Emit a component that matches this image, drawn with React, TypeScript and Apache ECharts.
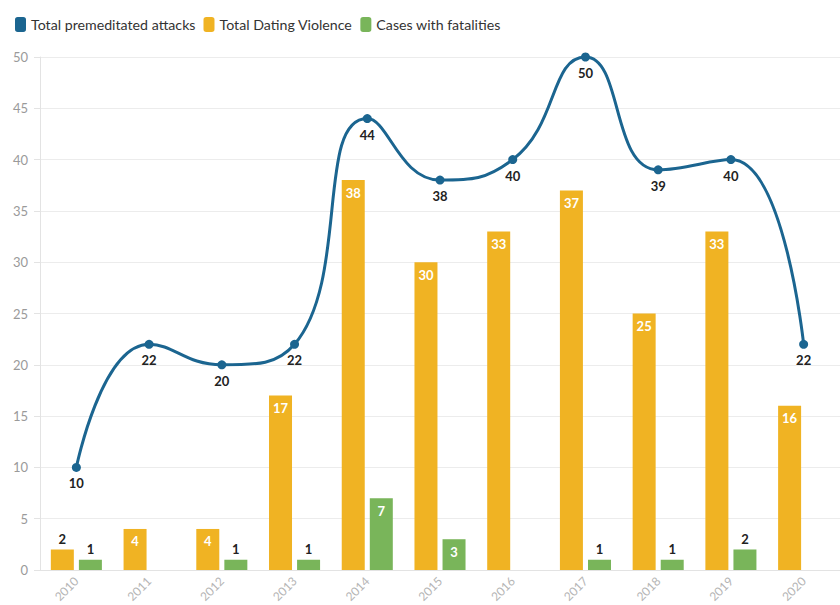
import React, { useEffect, useRef } from "react";
import * as echarts from "echarts";

const years = ["2010", "2011", "2012", "2013", "2014", "2015", "2016", "2017", "2018", "2019", "2020"];
const premeditated = [10, 22, 20, 22, 44, 38, 40, 50, 39, 40, 22];
const datingViolence = [2, 4, 4, 17, 38, 30, 33, 37, 25, 33, 16];
const fatalities: (number | null)[] = [1, null, 1, 1, 7, 3, null, 1, 1, 2, null];
const yTicks = { min: 0, max: 50, interval: 5 };

const BLUE = "#1b6590";
const YELLOW = "#f0b323";
const GREEN = "#79b55a";
const FONT = "Lato, 'Noto Sans', sans-serif";

// Value labels sit inside tall bars (white) and above short ones (dark)
function barItems(values: (number | null)[], insideFrom: number) {
  return values.map((v) => {
    if (v === null) return null;
    const inside = v >= insideFrom;
    return {
      value: v,
      label: {
        show: true,
        position: inside ? "insideTop" : "top",
        distance: inside ? 6 : 4,
        color: inside ? "#ffffff" : "#222222",
        fontWeight: "bold",
        fontSize: 13,
        fontFamily: FONT,
      },
    };
  });
}

export default function App() {
  const ref = useRef<HTMLDivElement>(null);
  useEffect(() => {
    if (!ref.current) return;
    const chart = echarts.init(ref.current, undefined, { renderer: "svg" });
    chart.setOption({
      animation: false,
      textStyle: { fontFamily: FONT },
      legend: {
        left: 10,
        top: 12,
        itemWidth: 11,
        itemHeight: 15,
        itemGap: 8,
        icon: "roundRect",
        textStyle: { fontSize: 14.2, color: "#333", fontFamily: FONT },
        data: [
          { name: "Total premeditated attacks", itemStyle: { color: BLUE } },
          { name: "Total Dating Violence", itemStyle: { color: YELLOW } },
          { name: "Cases with fatalities", itemStyle: { color: GREEN } },
        ],
      },
      grid: { left: 40, right: 0, top: 57, bottom: 35, outerBoundsMode: "none", containLabel: false },
      xAxis: {
        type: "category",
        data: years,
        axisLine: { lineStyle: { color: "#e3e3e3" } },
        axisTick: { alignWithLabel: true, length: 6, lineStyle: { color: "#e3e3e3" } },
        axisLabel: { rotate: 45, color: "#b5b5b5", fontSize: 12, margin: 9, fontFamily: FONT },
      },
      yAxis: {
        type: "value",
        min: yTicks.min,
        max: yTicks.max,
        interval: yTicks.interval,
        axisLine: { show: true, lineStyle: { color: "#e3e3e3" } },
        axisTick: { show: true, length: 6, lineStyle: { color: "#e3e3e3" } },
        axisLabel: { color: "#9a9a9a", fontSize: 13, margin: 12, fontFamily: FONT },
        splitLine: { lineStyle: { color: "#ececec" } },
      },
      series: [
        {
          name: "Total Dating Violence",
          type: "bar",
          data: barItems(datingViolence, 3),
          barWidth: 23,
          barGap: "22%",
          itemStyle: { color: YELLOW },
          z: 2,
        },
        {
          name: "Cases with fatalities",
          type: "bar",
          data: barItems(fatalities, 3),
          barWidth: 23,
          barGap: "22%",
          itemStyle: { color: GREEN },
          z: 2,
        },
        {
          name: "Total premeditated attacks",
          type: "line",
          data: premeditated,
          smooth: 0.5,
          symbol: "circle",
          symbolSize: 9,
          lineStyle: { color: BLUE, width: 3 },
          itemStyle: { color: BLUE },
          label: {
            show: true,
            position: "bottom",
            distance: 5,
            color: "#222",
            fontWeight: "bold",
            fontSize: 13,
            fontFamily: FONT,
          },
          z: 5,
        },
      ],
    });
    return () => chart.dispose();
  }, []);
  return <div ref={ref} style={{ width: 840, height: 605, position: "absolute", left: 0, top: 0 }} />;
}
